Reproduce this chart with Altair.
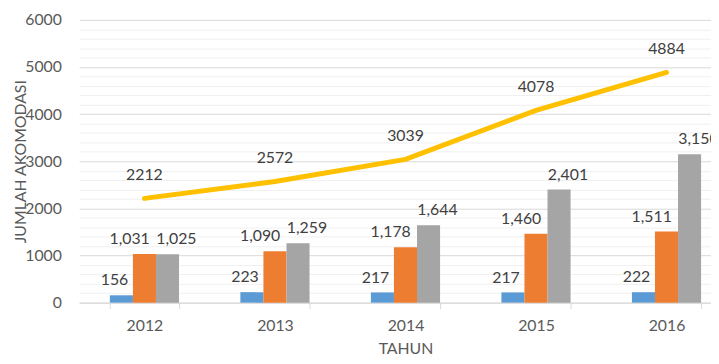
import altair as alt
import pandas as pd

years = ["2012", "2013", "2014", "2015", "2016"]
series_names = ["Seri 1", "Seri 2", "Seri 3"]
series_blue = [156, 223, 217, 217, 222]
series_orange = [1031, 1090, 1178, 1460, 1511]
series_gray = [1025, 1259, 1644, 2401, 3150]
line_total = [2212, 2572, 3039, 4078, 4884]

colors = ["#5B9BD5", "#ED7D31", "#A5A5A5"]
line_color = "#FFC000"
FONT = "Lato"

rows = []
for name, vals in zip(series_names, [series_blue, series_orange, series_gray]):
    for y, v in zip(years, vals):
        rows.append({"year": y, "series": name, "value": v})
bars_df = pd.DataFrame(rows)
line_df = pd.DataFrame({"year": years, "value": line_total})

x_enc = alt.X(
    "year:N",
    sort=years,
    scale=alt.Scale(range=[0, 660], paddingInner=0.47, paddingOuter=0.235),
    axis=alt.Axis(
        title="TAHUN",
        titleY=46,
        titleBaseline="middle",
        titleFont=FONT,
        titleFontSize=16,
        titleFontWeight="normal",
        titleColor="#595959",
        labelFont=FONT,
        labelFontSize=16,
        labelColor="#595959",
        labelPadding=9,
        labelAngle=0,
        tickBand="extent",
        tickSize=6,
        tickColor="#D9D9D9",
        domainColor="#D9D9D9",
        grid=False,
    ),
)

y_enc = alt.Y(
    "value:Q",
    scale=alt.Scale(domain=[0, 6000], nice=False),
    axis=alt.Axis(
        values=list(range(0, 6001, 200)),
        labelExpr="datum.value % 1000 === 0 ? datum.label : ''",
        format="d",
        title="JUMLAH AKOMODASI",
        titleX=-59,
        titleY=143,
        titleAngle=270,
        titleAlign="center",
        titleBaseline="middle",
        titleFont=FONT,
        titleFontSize=16,
        titleFontWeight="normal",
        titleColor="#595959",
        labelFont=FONT,
        labelFontSize=16,
        labelColor="#595959",
        labelPadding=18,
        ticks=False,
        domain=False,
        grid=True,
        gridColor=alt.condition("datum.value % 1000 === 0", alt.value("#D9D9D9"), alt.value("#F0F0F0")),
        gridWidth=1,
    ),
)

xoff = alt.XOffset("series:N", sort=series_names,
                   scale=alt.Scale(paddingInner=0, paddingOuter=0))

bars = alt.Chart(bars_df).mark_bar().encode(
    x=x_enc,
    y=y_enc,
    xOffset=xoff,
    color=alt.Color("series:N", sort=series_names,
                    scale=alt.Scale(domain=series_names, range=colors), legend=None),
)

label_dx = [-7, -15, 9]
texts = []
for name, dx in zip(series_names, label_dx):
    texts.append(
        alt.Chart(bars_df).transform_filter(alt.datum.series == name).mark_text(
            font=FONT, fontSize=16, color="#404040", dy=-15, dx=dx, baseline="middle"
        ).encode(
            x=x_enc,
            y=y_enc,
            xOffset=xoff,
            text=alt.Text("value:Q", format=",d"),
        )
    )

line = alt.Chart(line_df).mark_line(color=line_color, strokeWidth=5, strokeCap="round").encode(
    x=x_enc, y=y_enc
)
line_text = alt.Chart(line_df).mark_text(
    font=FONT, fontSize=16, color="#404040", dy=-24, baseline="middle"
).encode(x=x_enc, y=y_enc, text=alt.Text("value:Q", format="d"))

chart = alt.layer(bars, *texts, line, line_text).properties(
    width=639,
    height=286,
    autosize=alt.AutoSizeParams(type="none"),
    padding={"left": 72, "top": 10, "right": 0, "bottom": 56},
    background="white",
).configure_view(stroke=None)

chart.save("out.html", embed_options={"renderer": "svg", "actions": False})
